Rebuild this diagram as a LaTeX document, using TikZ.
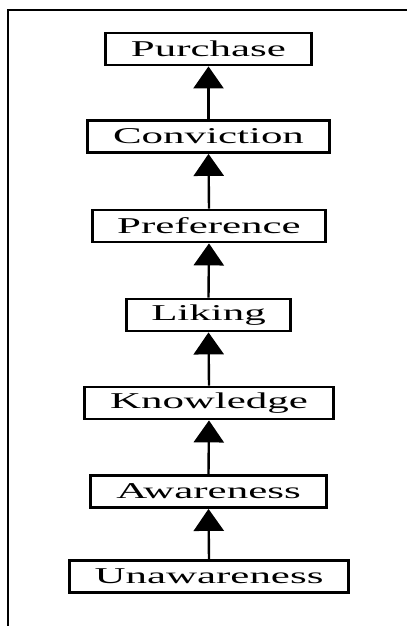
\documentclass[tikz,border=0pt]{standalone}
\usepackage{fontspec}
\usepackage{graphicx}
\setmainfont{Liberation Serif}
\usetikzlibrary{arrows.meta}
\tikzset{
  stage/.style={draw=black, line width=2.8pt, fill=white, inner sep=0pt,
    minimum height=32pt, font=\fontsize{22.6pt}{24pt}\selectfont},
  uparrow/.style={line width=2.4pt, -{Triangle[width=30pt,length=22pt]}},
  frameline/.style={line width=2.2pt}
}
\newcommand{\wide}[1]{\scalebox{1.9}[1]{#1}}
\begin{document}
\begin{tikzpicture}[x=1pt,y=-1pt]
\useasboundingbox (0,0) rectangle (407,626);
\coordinate (ftl) at (8,10);
\coordinate (ftr) at (407,10);
\coordinate (fbl) at (8,626);
\draw[frameline] (fbl) -- (ftl) -- (ftr);
\node[stage, minimum width=206pt] (pur) at (208.5,49) {\wide{Purchase}};
\node[stage, minimum width=242pt] (con) at (208.5,136.5) {\wide{Conviction}};
\node[stage, minimum width=233pt] (pre) at (209,226) {\wide{Preference}};
\node[stage, minimum width=164pt] (lik) at (208.5,315) {\wide{Liking}};
\node[stage, minimum width=249pt] (kno) at (209,403) {\wide{Knowledge}};
\node[stage, minimum width=236pt] (awa) at (208.5,491.5) {\wide{Awareness}};
\node[stage, minimum width=279pt] (una) at (209,576.5) {\wide{Unawareness}};
\draw[uparrow] (una.north) -- (awa.south);
\draw[uparrow] (awa.north) -- (kno.south);
\draw[uparrow] (kno.north) -- (lik.south);
\draw[uparrow] (lik.north) -- (pre.south);
\draw[uparrow] (pre.north) -- (con.south);
\draw[uparrow] (con.north) -- (pur.south);
\end{tikzpicture}
\end{document}
